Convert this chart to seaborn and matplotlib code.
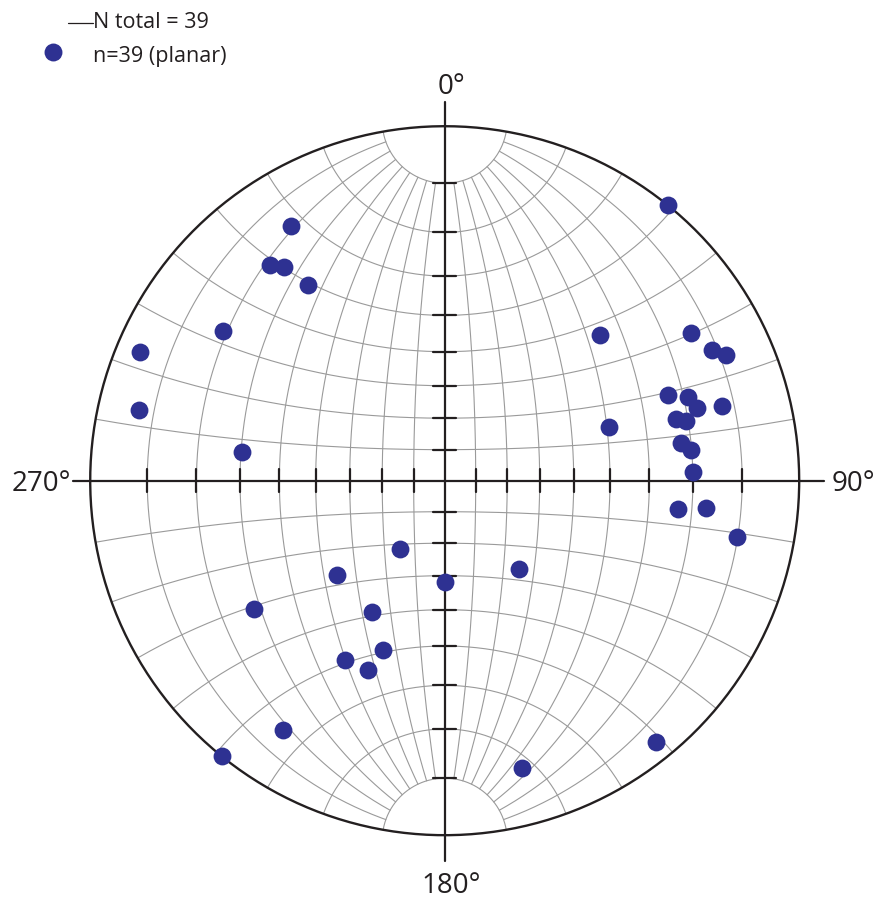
import numpy as np
import pandas as pd
import matplotlib.pyplot as plt
import seaborn as sns

# planes: dip direction / dip (deg), poles plotted on a lower-hemisphere Wulff net
dip_dir = [219, 149, 141, 143, 145, 124, 113, 227, 239, 244,
           246, 103, 249, 251, 254, 255, 255, 256, 252, 261,
           263, 98, 268, 277, 276, 281, 33, 49, 320, 0,
           56, 29, 20, 29, 22, 33, 39, 321, 345]
dip = [90, 80, 76, 74, 68, 74, 86, 62, 78, 80,
       82, 83, 68, 72, 73, 78, 68, 70, 52, 68,
       70, 60, 70, 67, 73, 80, 26, 44, 36, 32,
       66, 46, 54, 60, 60, 80, 90, 87, 80]

legend_total = "N total = 39"
legend_set = "n=39 (planar)"
dir_labels = ["0°", "90°", "180°", "270°"]

POINT = '#2e3192'
GRID = '#9a9a9a'
INK = '#231f20'


def wulff(x, y, z):
    # equal angle, lower hemisphere (z <= 0)
    return x / (1 - z), y / (1 - z)


# poles to planes
tr = np.radians((np.array(dip_dir) + 180) % 360)
pl = np.radians(90 - np.array(dip))
px, py = wulff(np.cos(pl) * np.sin(tr), np.cos(pl) * np.cos(tr), -np.sin(pl))
df = pd.DataFrame({'x': px, 'y': py})

sns.set_style('white')
plt.rcParams['font.family'] = ['Open Sans', 'DejaVu Sans']

W, H = 880, 901
cx, cy, R = 444.7, 480.7, 354.5
fig = plt.figure(figsize=(W / 100, H / 100), dpi=100)
ax = fig.add_axes([0, 0, 1, 1])
ax.set_xlim(-cx / R, (W - cx) / R)
ax.set_ylim(-(H - cy) / R, cy / R)
ax.axis('off')

# great circles through N and S, cut at the 10 deg caps
t = np.radians(np.linspace(10, 170, 200))
for d in range(10, 90, 10):
    dr = np.radians(d)
    for s in (-1, 1):
        gx, gy = wulff(s * np.sin(t) * np.cos(dr), np.cos(t), -np.sin(t) * np.sin(dr))
        ax.plot(gx, gy, color=GRID, lw=0.8, zorder=1)

# small circles about the N-S axis
phi = np.linspace(np.pi, 2 * np.pi, 200)
for a in range(10, 180, 10):
    if a == 90:
        continue
    ar = np.radians(a)
    sx, sy = wulff(np.sin(ar) * np.cos(phi), np.full_like(phi, np.cos(ar)), np.sin(ar) * np.sin(phi))
    ax.plot(sx, sy, color=GRID, lw=0.8, zorder=1)

# primitive
th = np.linspace(0, 2 * np.pi, 400)
ax.plot(np.cos(th), np.sin(th), color=INK, lw=1.7, zorder=3)

# main axes and ticks
ax.plot([-1.049, 1.070], [0, 0], color=INK, lw=1.6, zorder=3)
ax.plot([0, 0], [-1.073, 1.069], color=INK, lw=1.6, zorder=3)
tick = 11.5 / R
for k in range(1, 9):
    r = np.tan(np.radians(5 * k))
    for s in (-1, 1):
        ax.plot([s * r, s * r], [-tick, tick], color=INK, lw=1.6, zorder=3)
        ax.plot([-tick, tick], [s * r, s * r], color=INK, lw=1.6, zorder=3)

sns.scatterplot(data=df, x='x', y='y', ax=ax, color=POINT, s=165,
                linewidth=0, zorder=5, legend=False)

fs = 20
ax.text(0.018, 1.090, dir_labels[0], ha='center', va='baseline', fontsize=fs, color=INK)
ax.text(1.0917, -0.030, dir_labels[1], ha='left', va='baseline', fontsize=fs, color=INK)
ax.text(0.019, -1.1625, dir_labels[2], ha='center', va='baseline', fontsize=fs, color=INK)
ax.text(-1.0542, -0.028, dir_labels[3], ha='right', va='baseline', fontsize=fs, color=INK)

# legend, top left
fig.add_artist(plt.Line2D([68 / W, 93 / W], [1 - 22.7 / H, 1 - 22.7 / H],
                          color=INK, lw=0.9, transform=fig.transFigure))
fig.text(93 / W, 1 - 28.3 / H, legend_total, ha='left', va='baseline', fontsize=15.5, color=INK)
fig.add_artist(plt.Line2D([53.3 / W], [1 - 52.3 / H], marker='o', markersize=12.9,
                          markerfacecolor=POINT, markeredgewidth=0, linestyle='none',
                          transform=fig.transFigure))
fig.text(92.5 / W, 1 - 62.3 / H, legend_set, ha='left', va='baseline', fontsize=15.5, color=INK)

fig.savefig('out.png', dpi=100)
